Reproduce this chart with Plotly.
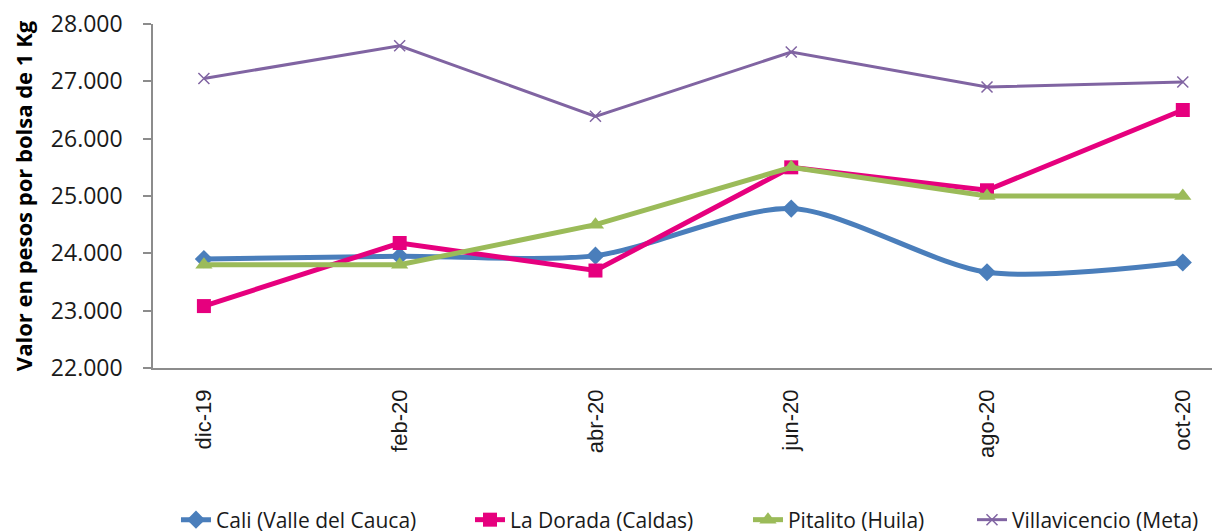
import plotly.graph_objects as go

months = ["dic-19", "feb-20", "abr-20", "jun-20", "ago-20", "oct-20"]
cali = [23900, 23950, 23960, 24780, 23670, 23840]
la_dorada = [23080, 24180, 23700, 25500, 25100, 26500]
pitalito = [23800, 23800, 24500, 25500, 25000, 25000]
villavicencio = [27050, 27620, 26390, 27510, 26900, 26990]
y_ticks = [22000, 23000, 24000, 25000, 26000, 27000, 28000]

x = list(range(len(months)))
fig = go.Figure()

fig.add_trace(go.Scatter(
    x=x, y=cali, name="Cali (Valle del Cauca)", mode="lines+markers",
    line=dict(color="#4A7EBB", width=5, shape="spline", smoothing=0.8),
    marker=dict(symbol="diamond", size=14, color="#4A7EBB"),
    legendwidth=249))
fig.add_trace(go.Scatter(
    x=x, y=la_dorada, name="La Dorada (Caldas)", mode="lines+markers",
    line=dict(color="#E6007E", width=5),
    marker=dict(symbol="square", size=14, color="#E6007E"),
    legendwidth=233))
fig.add_trace(go.Scatter(
    x=x, y=pitalito, name="Pitalito (Huila)", mode="lines+markers",
    line=dict(color="#9BBB59", width=5),
    marker=dict(symbol="triangle-up", size=15, color="#9BBB59"),
    legendwidth=179))
fig.add_trace(go.Scatter(
    x=x, y=villavicencio, name="Villavicencio (Meta)", mode="lines+markers",
    line=dict(color="#8064A2", width=3),
    marker=dict(symbol="x-thin-open", size=11, color="#8064A2",
                line=dict(color="#8064A2", width=1.5)),
    legendwidth=200))

fig.update_layout(
    width=1212, height=523,
    margin=dict(l=145, r=0, t=16, b=163),
    paper_bgcolor="white", plot_bgcolor="white",
    separators=",.",
    font=dict(family="Open Sans", color="#1a1a1a"),
    showlegend=True,
    legend=dict(orientation="h", xref="container", yref="container",
                x=0.1386, xanchor="left", y=0.021, yanchor="middle",
                font=dict(family="Open Sans", size=21, color="#1a1a1a"),
                bgcolor="rgba(0,0,0,0)"),
)
fig.update_xaxes(
    range=[-0.26, 5.19], tickmode="array", tickvals=x, ticktext=months,
    tickangle=-90, showgrid=False, zeroline=False,
    showline=True, linecolor="#8c8c8c", linewidth=1.5, ticks="",
    tickfont=dict(family="Liberation Sans", size=22, color="#1a1a1a"),
    ticklabelstandoff=11, automargin=False)
fig.update_yaxes(
    range=[22000, 28000], tickmode="array", tickvals=y_ticks,
    tickformat=",d", showgrid=False, zeroline=False,
    showline=True, linecolor="#8c8c8c", linewidth=1.5,
    ticks="outside", ticklen=8, tickcolor="#8c8c8c", tickwidth=1.5,
    tickfont=dict(family="Open Sans", size=23, color="#1a1a1a"),
    ticklabelstandoff=16, ticklabeloverflow="allow", automargin=False,
    title=dict(text="<b>Valor en pesos por bolsa de 1 Kg</b>",
               font=dict(family="Open Sans", size=22, color="#000000"),
               standoff=26))

fig.write_html("out.html")
